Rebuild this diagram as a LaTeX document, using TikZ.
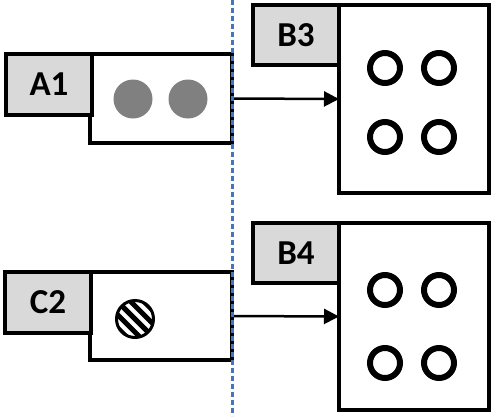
\documentclass[tikz,border=0pt]{standalone}
\usepackage{fontspec}
\setmainfont{Carlito}
\usetikzlibrary{arrows.meta,calc}
\definecolor{lblgray}{HTML}{D9D9D9}
\definecolor{dotgray}{HTML}{808080}
\definecolor{sepblue}{HTML}{4472C4}
\begin{document}
\begin{tikzpicture}[x=1pt,y=-1pt,
  box/.style={draw=black,line width=3.5pt,fill=white,minimum width=#1,inner sep=0pt,outer sep=0pt},
  lbl/.style={draw=black,line width=3.5pt,fill=lblgray,minimum width=86pt,minimum height=60pt,inner sep=0pt,outer sep=0pt,font=\fontsize{35}{37}\selectfont\bfseries},
  dot/.style={circle,fill=dotgray,minimum size=39pt,inner sep=0pt},
  ring/.style={circle,draw=black,line width=6pt,minimum size=30pt,inner sep=0pt},
  conn/.style={line width=2.5pt,-{Triangle[length=15pt,width=15pt]}},
  sep/.style={draw=sepblue,line width=3pt,dash pattern=on 5pt off 3pt}]
\useasboundingbox (0,0) rectangle (496,416);
% top row
\node[box=142pt,minimum height=89pt] (amain) at (161,98.5) {};
\node[lbl,minimum height=61pt] (a1) at (49,84.5) {A1};
\node[dot] (d1) at (133,99) {};
\node[dot] (d2) at (188,99) {};
\node[box=150pt,minimum height=188pt] (bmain) at (414,99) {};
\node[lbl] (b3) at (296,35) {B3};
\node[ring] (r1) at (385,68) {};
\node[ring] (r2) at (439,68) {};
\node[ring] (r3) at (385,137) {};
\node[ring] (r4) at (439,137) {};
% bottom row
\node[box=142pt,minimum height=88pt] (cmain) at (161,316) {};
\node[lbl,minimum height=61pt] (c2) at (48,302.5) {C2};
\node[circle,minimum size=37pt,inner sep=0pt] (hc) at (135,319) {};
\begin{scope}
  \clip (hc.center) circle (18.5pt);
  \fill[white] (hc.center) circle (18.5pt);
  \foreach \k in {-3,-2,-1,0,1,2,3} {
    \draw[line width=5pt] ($(hc.center)+(\k*6.6,-\k*6.6)+(-30,-30)$) -- ($(hc.center)+(\k*6.6,-\k*6.6)+(30,30)$);
  }
\end{scope}
\draw[line width=3pt] (hc.center) circle (18.5pt);
\node[box=150pt,minimum height=187pt] (dmain) at (414,316.5) {};
\node[lbl] (b4) at (296,253) {B4};
\node[ring] (s1) at (385,290) {};
\node[ring] (s2) at (439,290) {};
\node[ring] (s3) at (385,363) {};
\node[ring] (s4) at (439,363) {};
% connectors
\draw[conn] (amain.east) -- (bmain.west);
\draw[conn] (cmain.east) -- (dmain.west);
% separator
\coordinate (septop) at (232,0);
\coordinate (sepbot) at (232,416);
\draw[sep] (septop) -- (sepbot);
\end{tikzpicture}
\end{document}
